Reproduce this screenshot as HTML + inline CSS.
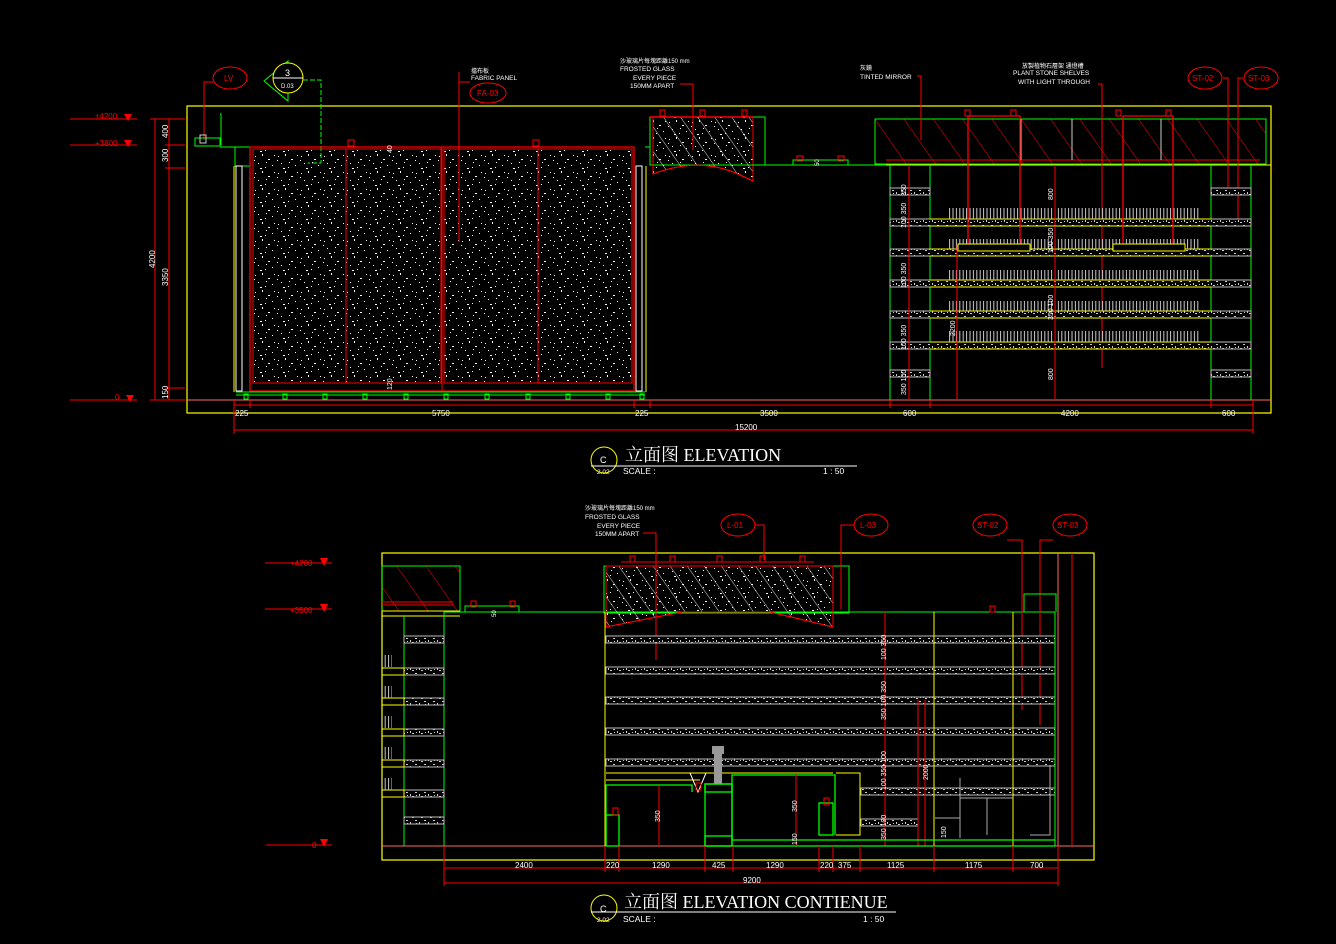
<!DOCTYPE html>
<html><head><meta charset="utf-8"><style>
html,body{margin:0;padding:0;background:#000;width:1336px;height:944px;overflow:hidden}
svg{display:block}
text{font-family:"Liberation Sans","Noto Sans CJK SC",sans-serif;fill:#fff}
.r{fill:#f00}
.t{font-family:"Liberation Serif","Noto Serif CJK SC",serif}
</style></head><body>
<svg width="1336" height="944" viewBox="0 0 1336 944" xmlns="http://www.w3.org/2000/svg">
<defs>
<pattern id="sp" width="23" height="17" patternUnits="userSpaceOnUse">
<rect x="2" y="3" width="1" height="1" fill="#fff"/><rect x="9" y="1" width="1" height="2" fill="#fff"/>
<rect x="15" y="6" width="2" height="1" fill="#fff"/><rect x="5" y="10" width="1" height="1" fill="#fff"/>
<rect x="19" y="12" width="1" height="1" fill="#fff"/><rect x="12" y="14" width="1" height="1" fill="#fff"/>
<rect x="21" y="2" width="1" height="1" fill="#fff"/><rect x="7" y="15" width="2" height="1" fill="#fff"/>
<rect x="13" y="9" width="1" height="1" fill="#fff"/><rect x="1" y="7" width="1" height="1" fill="#fff"/>
</pattern>
<pattern id="sh" width="9" height="7" patternUnits="userSpaceOnUse">
<rect width="9" height="7" fill="#000"/>
<rect x="1" y="1" width="2" height="1" fill="#ccc"/><rect x="5" y="3" width="1" height="2" fill="#ccc"/>
<rect x="7" y="5" width="2" height="1" fill="#ccc"/><rect x="2" y="4" width="1" height="1" fill="#ccc"/>
</pattern>
<pattern id="tk" width="3.4" height="12" patternUnits="userSpaceOnUse">
<line x1="1" y1="0" x2="1" y2="12" stroke="#ccc" stroke-width="1"/>
</pattern>
<pattern id="hr" width="24" height="24" patternUnits="userSpaceOnUse" patternTransform="rotate(-35)">
<line x1="0" y1="0" x2="0" y2="24" stroke="#f00" stroke-width="1"/>
</pattern>
<pattern id="hw" width="14" height="14" patternUnits="userSpaceOnUse" patternTransform="rotate(-35)">
<line x1="0" y1="0" x2="0" y2="14" stroke="#ddd" stroke-width="1"/>
</pattern>
</defs>

<!-- ============ TOP ELEVATION ============ -->
<rect x="187" y="106" width="1084" height="307" fill="none" stroke="#ff0" stroke-width="1.2"/>
<line x1="187" y1="400" x2="1271" y2="400" stroke="#f66" stroke-width="1"/>
<!-- levels -->
<g stroke="#f00" stroke-width="1">
<line x1="70" y1="119" x2="137" y2="119"/><line x1="70" y1="145" x2="137" y2="145"/><line x1="70" y1="400" x2="137" y2="400"/>
<line x1="155" y1="119" x2="155" y2="400"/><line x1="169" y1="119" x2="169" y2="400"/>
<line x1="150" y1="119" x2="185" y2="119"/><line x1="165" y1="145" x2="185" y2="145"/><line x1="165" y1="168" x2="185" y2="168"/><line x1="165" y1="388" x2="185" y2="388"/><line x1="150" y1="400" x2="185" y2="400"/>
</g>
<g class="r"><polygon points="124,114 132,114 128,121"/><polygon points="124,140 132,140 128,147"/><polygon points="126,395 134,395 130,402"/></g>
<text x="95" y="119" font-size="8" class="r">±4200</text><text x="95" y="146" font-size="8" class="r">+3800</text><text x="115" y="400" font-size="8" class="r">0</text>
<g font-size="8"><text transform="translate(155,268) rotate(-90)">4200</text><text transform="translate(168,286) rotate(-90)">3350</text>
<text transform="translate(168,138) rotate(-90)">400</text><text transform="translate(168,162) rotate(-90)">300</text><text transform="translate(168,399) rotate(-90)">150</text></g>

<!-- LV & section tags -->
<ellipse cx="230" cy="78" rx="17" ry="11" fill="none" stroke="#f00"/><text x="224" y="81" font-size="8" class="r">LV</text>
<polyline points="213,82 204,82 204,140" fill="none" stroke="#f00"/>
<rect x="195" y="138" width="25" height="8" fill="none" stroke="#0f0"/><rect x="200" y="135" width="6" height="8" fill="none" stroke="#ccc"/>
<polyline points="220,114 221,114 221,145" fill="none" stroke="#0f0"/>
<polygon points="264,81 288,61 288,101" fill="none" stroke="#0f0"/>
<circle cx="288" cy="78" r="15" fill="#000" stroke="#ff0"/><line x1="273" y1="78" x2="303" y2="78" stroke="#fff"/>
<text x="285" y="76" font-size="9">3</text><text x="281" y="88" font-size="6">D.03</text>
<polyline points="303,80 321,80 321,163 308,163" fill="none" stroke="#0f0" stroke-dasharray="5,2"/>
<!-- panel area -->
<polyline points="220,147 250,147" stroke="#0f0" fill="none"/>
<polyline points="235,147 235,166 250,166" stroke="#0f0" fill="none"/>
<rect x="236" y="166" width="6" height="225" fill="none" stroke="#fff"/>
<rect x="636" y="166" width="6" height="225" fill="none" stroke="#fff"/>
<line x1="234" y1="166" x2="234" y2="392" stroke="#ff0"/><line x1="646" y1="166" x2="646" y2="392" stroke="#ff0"/>
<rect x="250" y="147" width="384" height="244" fill="none" stroke="#f00" stroke-width="1.2"/>
<rect x="253" y="149" width="188" height="234" fill="url(#sp)" stroke="#f00"/>
<rect x="444" y="149" width="188" height="234" fill="url(#sp)" stroke="#f00"/>
<line x1="346" y1="149" x2="346" y2="383" stroke="#f00"/><line x1="538" y1="149" x2="538" y2="383" stroke="#f00"/>
<line x1="442" y1="147" x2="442" y2="391" stroke="#f00"/>
<line x1="236" y1="392" x2="645" y2="392" stroke="#0f0"/><line x1="236" y1="395" x2="645" y2="395" stroke="#0f0"/>
<g fill="none" stroke="#0f0"><rect x="244" y="394" width="4" height="5"/><rect x="283" y="394" width="4" height="5"/><rect x="323" y="394" width="4" height="5"/><rect x="363" y="394" width="4" height="5"/><rect x="404" y="394" width="4" height="5"/><rect x="444" y="394" width="4" height="5"/><rect x="485" y="394" width="4" height="5"/><rect x="526" y="394" width="4" height="5"/><rect x="566" y="394" width="4" height="5"/><rect x="606" y="394" width="4" height="5"/><rect x="640" y="394" width="4" height="5"/></g>
<g fill="none" stroke="#f00"><rect x="348" y="140" width="6" height="6"/><rect x="533" y="140" width="6" height="6"/></g>
<text transform="translate(392,153) rotate(-90)" font-size="7">40</text><text transform="translate(392,390) rotate(-90)" font-size="7">120</text>
<polyline points="459,72 459,242" stroke="#f00" fill="none"/><line x1="459" y1="82" x2="470" y2="82" stroke="#f00"/>
<text x="471" y="73" font-size="6">擋布板</text><text x="471" y="80" font-size="6.5">FABRIC PANEL</text>
<ellipse cx="488" cy="93" rx="18" ry="10" fill="none" stroke="#f00"/><text x="477" y="96" font-size="8" class="r">FA-03</text>

<!-- frosted glass top -->
<rect x="650" y="117" width="115" height="48" fill="none" stroke="#0f0"/>
<path d="M653,117 L753,117 L753,181 L740,175 Q700,156 653,174 Z" fill="url(#sp)" stroke="#f00"/>
<path d="M653,117 L753,117 L753,181 L740,175 Q700,156 653,174 Z" fill="url(#hw)" stroke="#f00"/>
<line x1="650" y1="117" x2="753" y2="117" stroke="#f00" stroke-width="1.5"/>
<g fill="none" stroke="#f00"><rect x="660" y="125" width="5" height="6" transform="translate(0,-15)"/><rect x="700" y="110" width="5" height="6"/><rect x="742" y="110" width="5" height="6"/></g>
<polyline points="693,84 693,150" stroke="#f00" fill="none"/><line x1="680" y1="84" x2="693" y2="84" stroke="#f00"/>
<text x="620" y="63" font-size="6">沙玻璃片每塊距離150 mm</text>
<text x="620" y="71" font-size="6.5">FROSTED GLASS</text><text x="633" y="80" font-size="6.5">EVERY PIECE</text><text x="630" y="88" font-size="6.5">150MM APART</text>
<line x1="187" y1="165" x2="890" y2="165" stroke="#0f0" stroke-width="0" />
<polyline points="752,165 890,165" stroke="#0f0" fill="none"/>
<rect x="793" y="160" width="55" height="5" fill="none" stroke="#0f0"/>
<rect x="797" y="156" width="6" height="5" fill="none" stroke="#f00"/><rect x="838" y="156" width="6" height="5" fill="none" stroke="#f00"/>
<text transform="translate(819,166) rotate(-90)" font-size="6">50</text>
<line x1="645" y1="147" x2="650" y2="147" stroke="#0f0"/>

<!-- mirror -->
<rect x="875" y="119" width="391" height="45" fill="url(#hr)" stroke="#0f0"/>
<line x1="886" y1="160" x2="1260" y2="160" stroke="#f00"/>
<line x1="1021" y1="119" x2="1021" y2="160" stroke="#ccc"/><line x1="1072" y1="119" x2="1072" y2="160" stroke="#ccc"/><line x1="1161" y1="119" x2="1161" y2="160" stroke="#ccc"/>
<line x1="886" y1="165" x2="1271" y2="165" stroke="#ff0"/>
<text x="860" y="70" font-size="6">灰鏡</text><text x="860" y="79" font-size="6.5">TINTED MIRROR</text>
<polyline points="917,76 921,76 921,140" stroke="#f00" fill="none"/>
<text x="1022" y="68" font-size="6">放製植物石層架 通燈槽</text><text x="1013" y="75" font-size="6.5">PLANT STONE SHELVES</text><text x="1018" y="84" font-size="6.5">WITH LIGHT THROUGH</text>
<polyline points="1098,84 1102,84 1102,368" stroke="#f00" fill="none"/>
<ellipse cx="1205" cy="78" rx="17" ry="11" fill="none" stroke="#f00"/><text x="1192" y="81" font-size="8" class="r">ST-02</text>
<ellipse cx="1261" cy="78" rx="17" ry="11" fill="none" stroke="#f00"/><text x="1248" y="81" font-size="8" class="r">ST-03</text>
<polyline points="1223,78 1228,78 1228,188" stroke="#f00" fill="none"/><polyline points="1243,78 1238,78 1238,225" stroke="#f00" fill="none"/>
<!-- shelves -->
<g stroke="#0f0" fill="none"><line x1="890" y1="165" x2="890" y2="400"/><line x1="930" y1="165" x2="930" y2="400"/><line x1="1211" y1="165" x2="1211" y2="400"/><line x1="1251" y1="165" x2="1251" y2="400"/></g>
<g fill="url(#sh)" stroke="#bbb">
<rect x="890" y="188" width="40" height="7"/><rect x="1211" y="188" width="40" height="7"/>
<rect x="890" y="219" width="361" height="7"/><rect x="890" y="249" width="361" height="7"/><rect x="890" y="280" width="361" height="7"/><rect x="890" y="311" width="361" height="7"/><rect x="890" y="342" width="361" height="7"/>
<rect x="890" y="370" width="40" height="7"/><rect x="1211" y="370" width="40" height="7"/>
</g>
<g stroke="#ff0" fill="none"><line x1="930" y1="219" x2="1211" y2="219"/><line x1="930" y1="226" x2="1211" y2="226"/><line x1="930" y1="249" x2="1211" y2="249"/><line x1="930" y1="256" x2="1211" y2="256"/><line x1="930" y1="280" x2="1211" y2="280"/><line x1="930" y1="287" x2="1211" y2="287"/><line x1="930" y1="311" x2="1211" y2="311"/><line x1="930" y1="318" x2="1211" y2="318"/><line x1="930" y1="342" x2="1211" y2="342"/><line x1="930" y1="349" x2="1211" y2="349"/></g>
<g fill="url(#tk)"><rect x="947" y="208" width="252" height="11"/><rect x="947" y="239" width="252" height="10"/><rect x="947" y="270" width="252" height="10"/><rect x="947" y="301" width="252" height="10"/><rect x="947" y="331" width="252" height="11"/></g>
<g stroke="#f00" fill="none" stroke-width="1.3"><polyline points="968,244 968,116 1020,116 1020,244"/><polyline points="1123,244 1123,116 1173,116 1173,244"/></g>
<rect x="958" y="244" width="72" height="7" fill="#000" stroke="#ff0"/><rect x="1113" y="244" width="72" height="7" fill="#000" stroke="#ff0"/>
<g fill="none" stroke="#f00"><rect x="965" y="110" width="5" height="6"/><rect x="1011" y="110" width="5" height="6"/><rect x="1166" y="110" width="5" height="6"/><rect x="1116" y="110" width="5" height="6"/></g>
<line x1="909" y1="165" x2="909" y2="400" stroke="#f00"/><line x1="1055" y1="165" x2="1055" y2="400" stroke="#f00"/><line x1="957" y1="245" x2="957" y2="400" stroke="#f00"/>
<g font-size="7"><text transform="translate(906,196) rotate(-90)">350</text><text transform="translate(906,228) rotate(-90)">100 350</text><text transform="translate(906,288) rotate(-90)">100 350</text><text transform="translate(906,350) rotate(-90)">100 350</text><text transform="translate(906,395) rotate(-90)">350 100</text>
<text transform="translate(1053,200) rotate(-90)">800</text><text transform="translate(1053,253) rotate(-90)">100 350</text><text transform="translate(1053,320) rotate(-90)">350 100</text><text transform="translate(1053,380) rotate(-90)">800</text><text transform="translate(955,336) rotate(-90)">2200</text></g>
<!-- top dims -->
<g stroke="#f00" fill="none"><line x1="234" y1="405" x2="1253" y2="405"/><line x1="234" y1="430" x2="1253" y2="430"/>
<line x1="234" y1="400" x2="234" y2="434"/><line x1="250" y1="400" x2="250" y2="408"/><line x1="634" y1="400" x2="634" y2="408"/><line x1="650" y1="400" x2="650" y2="408"/><line x1="890" y1="400" x2="890" y2="408"/><line x1="930" y1="400" x2="930" y2="408"/><line x1="1211" y1="400" x2="1211" y2="408"/><line x1="1253" y1="400" x2="1253" y2="434"/></g>
<g font-size="8"><text x="235" y="416">225</text><text x="432" y="416">5750</text><text x="635" y="416">225</text><text x="760" y="416">3500</text><text x="903" y="416">600</text><text x="1061" y="416">4200</text><text x="1222" y="416">600</text><text x="735" y="430">15200</text></g>
<!-- title top -->
<circle cx="604" cy="460" r="13" fill="none" stroke="#ff0"/><line x1="591" y1="466" x2="857" y2="466" stroke="#fff"/>
<text x="600" y="463" font-size="9">C</text><text x="597" y="474" font-size="6.5">2.02</text>
<text x="625" y="461" font-size="18" class="t">立面图 ELEVATION</text>
<text x="623" y="474" font-size="8.5">SCALE :</text><text x="823" y="474" font-size="8.5">1 : 50</text>

<!-- ============ BOTTOM ELEVATION ============ -->
<rect x="382" y="553" width="712" height="307" fill="none" stroke="#ff0" stroke-width="1.2"/>
<line x1="382" y1="846" x2="1094" y2="846" stroke="#f66"/>
<line x1="1058" y1="553" x2="1058" y2="846" stroke="#f66"/><line x1="1072" y1="553" x2="1072" y2="846" stroke="#f00"/>
<g stroke="#f00"><line x1="265" y1="563" x2="332" y2="563"/><line x1="265" y1="609" x2="332" y2="609"/><line x1="266" y1="845" x2="332" y2="845"/></g>
<g class="r"><polygon points="320,558 328,558 324,566"/><polygon points="320,604 328,604 324,612"/><polygon points="320,839 328,839 324,847"/></g>
<text x="290" y="566" font-size="8" class="r">+4200</text><text x="290" y="613" font-size="8" class="r">+3500</text><text x="312" y="848" font-size="8" class="r">0</text>
<!-- left box -->
<rect x="382" y="566" width="78" height="45" fill="url(#hr)" stroke="#0f0"/>
<g stroke="#f00"><line x1="382" y1="602" x2="453" y2="602"/><line x1="382" y1="605" x2="453" y2="605"/></g>
<line x1="382" y1="611" x2="460" y2="611" stroke="#ff0"/><line x1="382" y1="616" x2="460" y2="616" stroke="#ff0"/>
<line x1="404" y1="616" x2="404" y2="846" stroke="#0f0"/><line x1="444" y1="611" x2="444" y2="846" stroke="#0f0"/>
<g fill="url(#sh)" stroke="#bbb"><rect x="404" y="636" width="40" height="7"/><rect x="404" y="668" width="40" height="7"/><rect x="404" y="698" width="40" height="7"/><rect x="404" y="729" width="40" height="7"/><rect x="404" y="760" width="40" height="7"/><rect x="404" y="790" width="40" height="7"/><rect x="404" y="817" width="40" height="7"/></g>
<g stroke="#ff0" fill="none"><rect x="382" y="668" width="22" height="7"/><rect x="382" y="698" width="22" height="7"/><rect x="382" y="729" width="22" height="7"/><rect x="382" y="760" width="22" height="7"/><rect x="382" y="790" width="22" height="7"/></g>
<g fill="url(#tk)"><rect x="382" y="655" width="10" height="12"/><rect x="382" y="686" width="10" height="12"/><rect x="382" y="716" width="10" height="12"/><rect x="382" y="747" width="10" height="12"/><rect x="382" y="778" width="10" height="12"/></g>
<polyline points="444,612 1055,612" stroke="#0f0" fill="none"/>
<rect x="465" y="606" width="54" height="6" fill="none" stroke="#0f0"/><rect x="471" y="601" width="5" height="6" fill="none" stroke="#f00"/><rect x="510" y="601" width="5" height="6" fill="none" stroke="#f00"/>
<text transform="translate(496,617) rotate(-90)" font-size="6">50</text>
<!-- frosted glass bottom -->
<rect x="604" y="566" width="245" height="47" fill="none" stroke="#0f0"/>
<path d="M606,566 L833,566 L833,627 L770,612 L682,612 L606,627 Z" fill="url(#sp)" stroke="#f00"/>
<path d="M606,566 L833,566 L833,627 L770,612 L682,612 L606,627 Z" fill="url(#hw)" stroke="#f00"/>
<line x1="621" y1="562" x2="814" y2="562" stroke="#f00"/>
<g fill="none" stroke="#f00"><rect x="630" y="556" width="5" height="6"/><rect x="670" y="556" width="5" height="6"/><rect x="717" y="556" width="5" height="6"/><rect x="760" y="556" width="5" height="6"/><rect x="800" y="556" width="5" height="6"/><rect x="990" y="606" width="5" height="6"/></g>
<text x="585" y="510" font-size="6">沙玻璃片每塊距離150 mm</text><text x="585" y="519" font-size="6.5">FROSTED GLASS</text><text x="597" y="528" font-size="6.5">EVERY PIECE</text><text x="595" y="536" font-size="6.5">150MM APART</text>
<polyline points="643,533 656,533 656,660" stroke="#f00" fill="none"/>
<ellipse cx="738" cy="525" rx="17" ry="11" fill="none" stroke="#f00"/><text x="727" y="528" font-size="8" class="r">L-01</text>
<ellipse cx="871" cy="525" rx="17" ry="11" fill="none" stroke="#f00"/><text x="860" y="528" font-size="8" class="r">L-03</text>
<ellipse cx="990" cy="525" rx="17" ry="11" fill="none" stroke="#f00"/><text x="977" y="528" font-size="8" class="r">ST-02</text>
<ellipse cx="1070" cy="525" rx="17" ry="11" fill="none" stroke="#f00"/><text x="1057" y="528" font-size="8" class="r">ST-03</text>
<polyline points="755,525 764,525 764,560" stroke="#f00" fill="none"/><polyline points="854,525 841,525 841,609" stroke="#f00" fill="none"/>
<polyline points="1007,525 1023,525 1023,710" stroke="#f00" fill="none" stroke-width="0"/>
<polyline points="1007,540 1022,540 1022,710" stroke="#f00" fill="none"/><polyline points="1053,540 1040,540 1040,725" stroke="#f00" fill="none"/>
<!-- long shelves -->
<g fill="url(#sh)" stroke="#bbb"><rect x="606" y="636" width="449" height="7"/><rect x="606" y="667" width="449" height="7"/><rect x="606" y="697" width="449" height="7"/><rect x="606" y="728" width="449" height="7"/><rect x="606" y="759" width="449" height="7"/><rect x="861" y="788" width="194" height="7"/><rect x="861" y="819" width="57" height="7"/></g>
<line x1="605" y1="612" x2="605" y2="846" stroke="#ff0"/>
<line x1="934" y1="612" x2="934" y2="846" stroke="#ff0"/><line x1="1013" y1="612" x2="1013" y2="846" stroke="#ff0"/>
<line x1="1055" y1="612" x2="1055" y2="846" stroke="#0f0"/>
<polyline points="1024,612 1024,594 1056,594 1056,612" stroke="#0f0" fill="none"/>
<line x1="885" y1="612" x2="885" y2="846" stroke="#f00"/><line x1="918" y1="700" x2="918" y2="846" stroke="#f00"/><line x1="925" y1="700" x2="925" y2="846" stroke="#f00"/>
<g font-size="7"><text transform="translate(886,660) rotate(-90)">100 350</text><text transform="translate(886,720) rotate(-90)">350 100 350</text><text transform="translate(886,790) rotate(-90)">100 350 100</text><text transform="translate(886,840) rotate(-90)">350 100</text><text transform="translate(928,780) rotate(-90)">2000</text></g>
<!-- furniture -->
<g fill="none" stroke="#ff0"><polyline points="606,773 833,773"/><polyline points="606,780 700,780"/><polyline points="836,773 860,773 860,835 836,835"/></g>
<g fill="none" stroke="#0f0" stroke-width="1.3">
<polyline points="606,846 606,785 692,785 692,792"/><rect x="606" y="815" width="13" height="31"/>
<rect x="705" y="784" width="27" height="62"/><rect x="705" y="784" width="27" height="8"/><rect x="705" y="836" width="27" height="10"/>
<polyline points="732,840 732,775 835,775 835,835"/><rect x="819" y="803" width="14" height="32"/>
<line x1="732" y1="840" x2="1055" y2="840"/><line x1="732" y1="846" x2="1055" y2="846"/>
</g>
<rect x="712" y="746" width="12" height="8" fill="#999"/><rect x="714" y="754" width="8" height="30" fill="#999"/>
<polyline points="690,773 698,792 706,773" stroke="#fff" fill="none"/>
<g fill="none" stroke="#aaa"><polyline points="960,778 960,838"/><polyline points="960,798 1013,798"/><line x1="987" y1="798" x2="987" y2="835"/><polyline points="1050,765 1050,835 1030,835"/><polyline points="935,818 960,818 960,838"/></g>
<g fill="none" stroke="#f00"><rect x="613" y="808" width="5" height="7"/><rect x="824" y="798" width="5" height="7"/><rect x="696" y="783" width="5" height="7"/></g>
<line x1="659" y1="786" x2="659" y2="846" stroke="#f00"/><line x1="796" y1="774" x2="796" y2="846" stroke="#f00"/>
<g font-size="7"><text transform="translate(660,822) rotate(-90)">350</text><text transform="translate(797,812) rotate(-90)">350</text><text transform="translate(797,845) rotate(-90)">150</text><text transform="translate(946,838) rotate(-90)">150</text></g>
<!-- bottom dims -->
<g stroke="#f00" fill="none"><line x1="444" y1="868" x2="1058" y2="868"/><line x1="444" y1="883" x2="1058" y2="883"/>
<line x1="444" y1="846" x2="444" y2="886"/><line x1="605" y1="846" x2="605" y2="872"/><line x1="619" y1="846" x2="619" y2="872"/><line x1="705" y1="846" x2="705" y2="872"/><line x1="733" y1="846" x2="733" y2="872"/><line x1="819" y1="846" x2="819" y2="872"/><line x1="833" y1="846" x2="833" y2="872"/><line x1="860" y1="846" x2="860" y2="872"/><line x1="934" y1="846" x2="934" y2="872"/><line x1="1013" y1="846" x2="1013" y2="872"/><line x1="1058" y1="846" x2="1058" y2="886"/></g>
<g font-size="8"><text x="515" y="868">2400</text><text x="606" y="868">220</text><text x="652" y="868">1290</text><text x="712" y="868">425</text><text x="766" y="868">1290</text><text x="820" y="868">220</text><text x="838" y="868">375</text><text x="887" y="868">1125</text><text x="965" y="868">1175</text><text x="1030" y="868">700</text><text x="743" y="883">9200</text></g>
<circle cx="604" cy="908" r="13" fill="none" stroke="#ff0"/><line x1="591" y1="912" x2="896" y2="912" stroke="#fff"/>
<text x="600" y="912" font-size="9">C</text><text x="597" y="922" font-size="6.5">2.02</text>
<text x="624" y="908" font-size="18" class="t">立面图 ELEVATION  CONTIENUE</text>
<text x="623" y="922" font-size="8.5">SCALE :</text><text x="863" y="922" font-size="8.5">1 : 50</text>
</svg>
</body></html>
